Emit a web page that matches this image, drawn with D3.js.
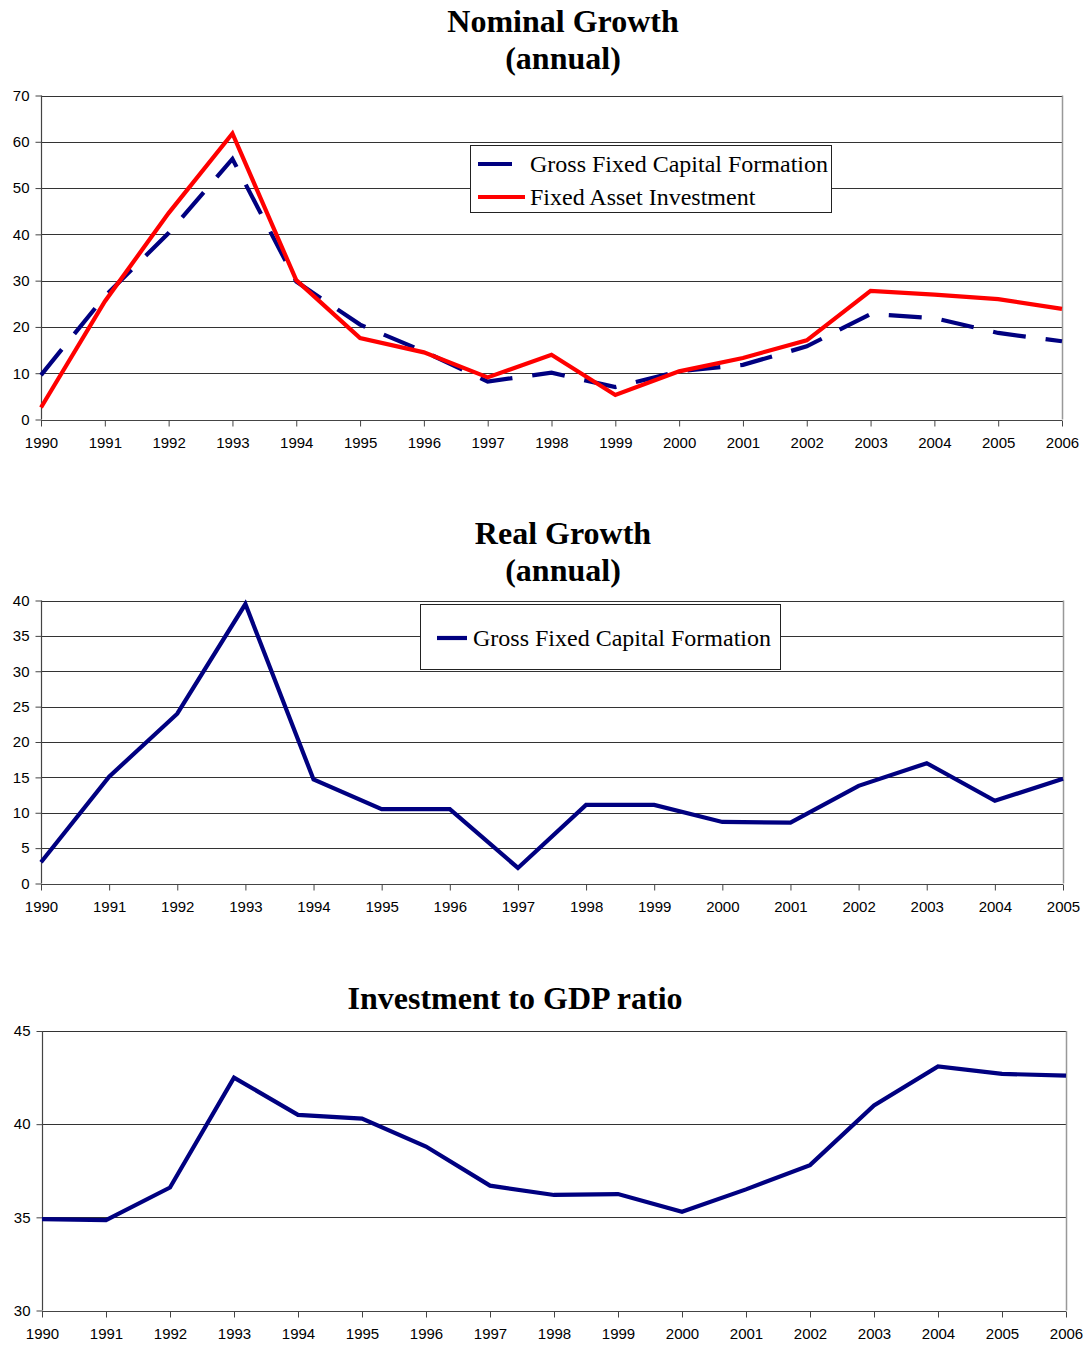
<!DOCTYPE html>
<html><head><meta charset="utf-8">
<script src="https://cdn.jsdelivr.net/npm/d3@7"></script>
<style>body{margin:0;background:#fff}svg{display:block}</style>
</head><body>
<svg id="c" width="1086" height="1345"></svg>
<script>
// ---- data ----
const yearsNominal = [1990,1991,1992,1993,1994,1995,1996,1997,1998,1999,2000,2001,2002,2003,2004,2005,2006];
const nominalGFCF = [9.6,26.6,40.3,56.3,29.8,20.5,14.7,8.2,10.1,7.0,10.4,11.8,15.8,22.8,21.9,18.7,16.9];
const nominalFAI  = [2.6,25.5,44.6,61.8,30.1,17.6,14.5,9.1,14.0,5.3,10.4,13.3,17.1,27.8,27.0,26.0,23.9];
const yearsReal = [1990,1991,1992,1993,1994,1995,1996,1997,1998,1999,2000,2001,2002,2003,2004,2005];
const realGFCF = [3.0,15.1,24.0,39.5,14.7,10.5,10.5,2.2,11.1,11.1,8.7,8.6,13.8,17.0,11.7,14.8];
const yearsRatio = [1990,1991,1992,1993,1994,1995,1996,1997,1998,1999,2000,2001,2002,2003,2004,2005,2006];
const investGDP = [34.9,34.85,36.6,42.5,40.5,40.3,38.8,36.7,36.2,36.25,35.3,36.5,37.8,41.0,43.1,42.7,42.6];
const nominalTicks = [0,10,20,30,40,50,60,70];
const realTicks = [0,5,10,15,20,25,30,35,40];
const ratioTicks = [30,35,40,45];
const seriesNames = ["Gross Fixed Capital Formation","Fixed Asset Investment"];

const svg = d3.select("#c");
const NAVY = "#000080", RED = "#ff0000";

function drawChart(o){
  const g = svg.append("g");
  const x = d3.scalePoint().domain(o.years).range([o.left, o.right]);
  const y = d3.scaleLinear().domain([o.ticks[0], o.ticks[o.ticks.length-1]]).range([o.bottom, o.top]);
  // gridlines
  g.selectAll(".grid").data(o.ticks.slice(1)).join("line")
    .attr("x1", o.left).attr("x2", o.right)
    .attr("y1", d=>Math.round(y(d))+0.5).attr("y2", d=>Math.round(y(d))+0.5)
    .attr("stroke", "#333").attr("stroke-width", 1);
  // right border
  g.append("line").attr("x1", o.right+0.5).attr("x2", o.right+0.5)
    .attr("y1", o.top).attr("y2", o.bottom).attr("stroke", "#999").attr("stroke-width", 1.5);
  // axes
  const ya = d3.axisLeft(y).tickValues(o.ticks).tickSize(6).tickPadding(6).tickFormat(d3.format("d"));
  const yg = g.append("g").attr("transform", `translate(${o.left+0.5},0)`).call(ya);
  const xa = d3.axisBottom(x).tickSize(6).tickPadding(11).tickFormat(d3.format("d"));
  const xg = g.append("g").attr("transform", `translate(0,${Math.round(o.bottom)+0.5})`).call(xa);
  [yg, xg].forEach(a=>{
    a.select(".domain").attr("stroke", "#444").attr("stroke-width", 1.2);
    a.selectAll(".tick line").attr("stroke", "#444");
    a.selectAll("text").attr("font-family", "'Liberation Sans', Arial, sans-serif")
      .attr("font-size", 15).attr("fill", "#000");
  });
  xg.select(".domain").attr("d", `M${o.left},0H${o.right}`);
  yg.select(".domain").attr("d", `M0,${o.bottom}V${o.top}`);
  // lines
  o.series.forEach(s=>{
    const line = d3.line().x((d,i)=>x(o.years[i])).y(d=>y(d));
    g.append("path").datum(s.values).attr("d", line).attr("fill", "none")
      .attr("stroke", s.color).attr("stroke-width", 4.2).attr("stroke-linejoin", "miter")
      .attr("stroke-dasharray", s.dash || null);
  });
  // titles
  o.title.forEach((t,i)=>{
    svg.append("text").attr("x", o.titleX).attr("y", o.titleY[i]).attr("text-anchor", "middle")
      .attr("font-family", "'Liberation Serif', 'Times New Roman', serif").attr("font-weight", "bold")
      .attr("font-size", 32).text(t);
  });
  // legend
  if (o.legend){
    const L = o.legend;
    g.append("rect").attr("x", L.x+0.5).attr("y", L.y+0.5).attr("width", L.w).attr("height", L.h)
      .attr("fill", "#fff").attr("stroke", "#222").attr("stroke-width", 1);
    L.items.forEach((it,i)=>{
      const yy = L.rowY[i];
      g.append("line").attr("x1", it.lx1).attr("x2", it.lx2).attr("y1", yy).attr("y2", yy)
        .attr("stroke", it.color).attr("stroke-width", 4.2);
      g.append("text").attr("x", L.textX).attr("y", yy+8).attr("font-size", 24)
        .attr("font-family", "'Liberation Serif', 'Times New Roman', serif").attr("fill", "#000")
        .text(it.name);
    });
  }
}

drawChart({
  years: yearsNominal, ticks: nominalTicks, left: 41, right: 1062, top: 95.5, bottom: 419.5,
  series: [
    {values: nominalGFCF, color: NAVY, dash: "33,20"},
    {values: nominalFAI, color: RED}
  ],
  title: ["Nominal Growth","(annual)"], titleX: 563, titleY: [32, 69],
  legend: {x: 470, y: 145, w: 361, h: 67, textX: 530, rowY: [164, 197],
    items: [{name: seriesNames[0], color: NAVY, lx1: 478, lx2: 512},
            {name: seriesNames[1], color: RED, lx1: 478, lx2: 525}]}
});

drawChart({
  years: yearsReal, ticks: realTicks, left: 41, right: 1063, top: 600.5, bottom: 883.5,
  series: [{values: realGFCF, color: NAVY}],
  title: ["Real Growth","(annual)"], titleX: 563, titleY: [544, 581],
  legend: {x: 420, y: 604, w: 360, h: 65, textX: 473, rowY: [638],
    items: [{name: seriesNames[0], color: NAVY, lx1: 437, lx2: 467}]}
});

drawChart({
  years: yearsRatio, ticks: ratioTicks, left: 42, right: 1066, top: 1031, bottom: 1310.5,
  series: [{values: investGDP, color: NAVY}],
  title: ["Investment to GDP ratio"], titleX: 515, titleY: [1009]
});
</script>
</body></html>
